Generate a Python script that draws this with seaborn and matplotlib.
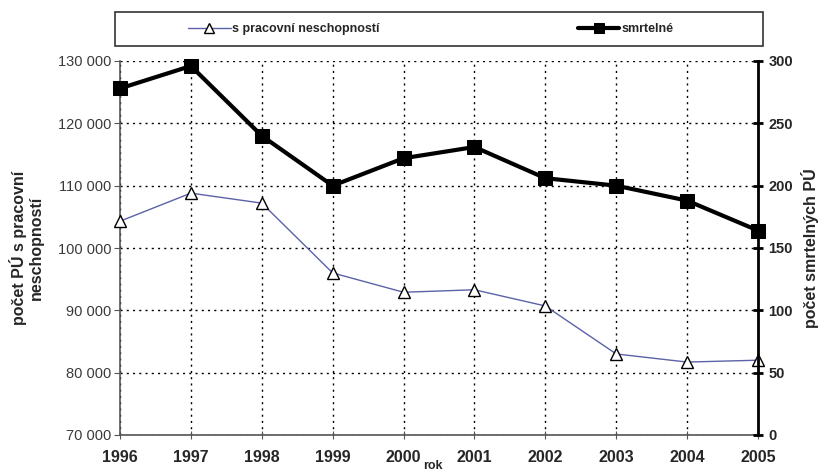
import matplotlib
matplotlib.use("Agg")
import matplotlib.pyplot as plt
import seaborn as sns
from matplotlib.patches import Rectangle
from matplotlib.ticker import FuncFormatter, MultipleLocator

# Data
years = [1996, 1997, 1998, 1999, 2000, 2001, 2002, 2003, 2004, 2005]
s_neschopnosti = [104300, 108800, 107200, 96000, 92900, 93300, 90700, 83000, 81700, 82000]
smrtelne = [278, 296, 240, 200, 222, 231, 206, 200, 188, 164]

label_left = "s pracovní neschopností"
label_right = "smrtelné"

sns.set_style("white")
plt.rcParams["font.family"] = ["Liberation Sans", "DejaVu Sans"]

W, H = 819, 472
fig = plt.figure(figsize=(W / 100, H / 100), dpi=100)
ax = fig.add_axes([120 / W, 37 / H, 638 / W, 374 / H])
ax2 = ax.twinx()

# left axis series
sns.lineplot(x=years, y=s_neschopnosti, ax=ax, color="#5b62a8", linewidth=1,
             marker="^", markersize=9, markerfacecolor="white",
             markeredgecolor="black", markeredgewidth=1, label=label_left,
             legend=False, zorder=3, clip_on=False)
# right axis series
sns.lineplot(x=years, y=smrtelne, ax=ax2, color="black", linewidth=3,
             marker="s", markersize=10, markerfacecolor="black",
             markeredgecolor="black", label=label_right, legend=False,
             zorder=3, clip_on=False)

ax.set_xlim(1996, 2005)
ax.set_ylim(70000, 130000)
ax2.set_ylim(0, 300)
ax.yaxis.set_major_locator(MultipleLocator(10000))
ax2.yaxis.set_major_locator(MultipleLocator(50))
ax.set_xticks(years)
ax.yaxis.set_major_formatter(FuncFormatter(lambda v, p: f"{v:,.0f}".replace(",", " ")))

ax.grid(True, color="black", linestyle=(0, (1.5, 3)), linewidth=1)
ax.set_axisbelow(True)

for sp in ["top", "right"]:
    ax.spines[sp].set_visible(False)
for sp in ["top", "left", "bottom"]:
    ax2.spines[sp].set_visible(False)
ax.spines["left"].set_color("#555555")
ax.spines["bottom"].set_color("#555555")
ax.spines["left"].set_linewidth(1.2)
ax.spines["bottom"].set_linewidth(1.2)
ax2.spines["right"].set_color("black")
ax2.spines["right"].set_linewidth(2)

ax.tick_params(axis="y", direction="out", length=4, color="#555555",
               labelsize=10.5, labelcolor="#3a3a3a", pad=2, left=True)
ax.tick_params(axis="x", direction="inout", length=6, color="#555555",
               labelsize=11.5, pad=8, bottom=True)
for t in ax.get_xticklabels():
    t.set_fontweight("bold")
ax2.tick_params(axis="y", direction="inout", length=7, width=2, color="black",
                labelsize=10.5, pad=4, right=True)
for t in ax2.get_yticklabels():
    t.set_fontweight("bold")

ax.set_ylabel("počet PÚ s pracovní\nneschopností", fontsize=11.5, fontweight="bold",
              labelpad=10, linespacing=1.15)
ax2.set_ylabel("počet smrtelných PÚ", fontsize=11.5, fontweight="bold", labelpad=6)
ax.set_xlabel("rok", fontsize=9, fontweight="bold")
ax.xaxis.set_label_coords((433 - 120) / 638, -0.068)

# legend box across the top, one entry on each side
fig.add_artist(Rectangle((115 / W, 1 - 46 / H), 648 / W, 34 / H, transform=fig.transFigure,
                         facecolor="white", edgecolor="#333333", linewidth=1.2))
line_l = ax.get_lines()[0]
line_r = ax2.get_lines()[0]
yc = 1 - 29 / H
for handle, text, x0, hl in [(line_l, label_left, 188, 3.4), (line_r, label_right, 578, 3.3)]:
    fig.legend([handle], [text], loc="center left", bbox_to_anchor=(x0 / W, yc),
               frameon=False, borderpad=0, borderaxespad=0, handlelength=hl,
               handletextpad=0.15, markerscale=0.75,
               prop={"weight": "bold", "size": 9})

fig.savefig("out.png", dpi=100)
